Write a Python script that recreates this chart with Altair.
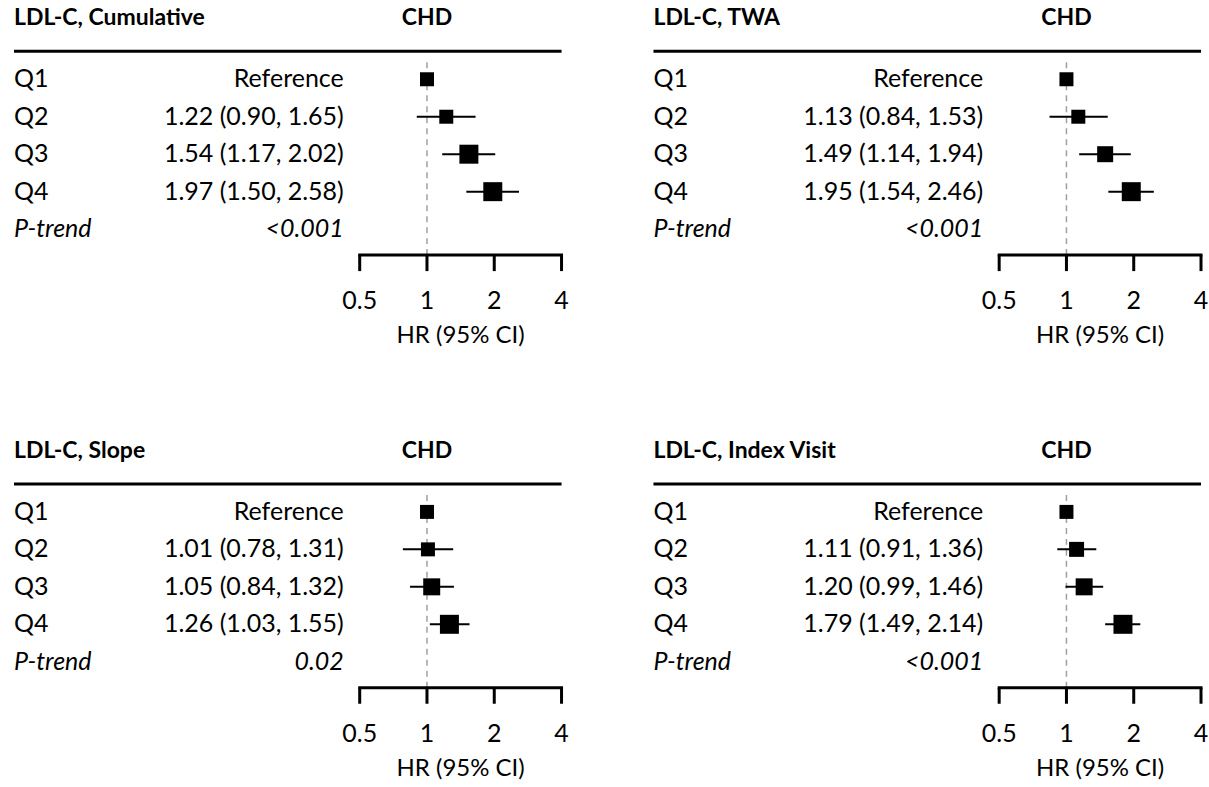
import altair as alt
import pandas as pd

# ---- data -------------------------------------------------------------
panel_titles = ["LDL-C, Cumulative", "LDL-C, TWA", "LDL-C, Slope", "LDL-C, Index Visit"]
outcome = "CHD"
quartiles = ["Q1", "Q2", "Q3", "Q4"]

hr_est = [
    [1.00, 1.22, 1.54, 1.97],
    [1.00, 1.13, 1.49, 1.95],
    [1.00, 1.01, 1.05, 1.26],
    [1.00, 1.11, 1.20, 1.79],
]
ci_low = [
    [None, 0.90, 1.17, 1.50],
    [None, 0.84, 1.14, 1.54],
    [None, 0.78, 0.84, 1.03],
    [None, 0.91, 0.99, 1.49],
]
ci_high = [
    [None, 1.65, 2.02, 2.58],
    [None, 1.53, 1.94, 2.46],
    [None, 1.31, 1.32, 1.55],
    [None, 1.36, 1.46, 2.14],
]
p_trend = ["<0.001", "<0.001", "0.02", "<0.001"]
tick_values = [0.5, 1, 2, 4]

# box side length (px) per row
box_side = [
    [14, 14, 19, 19],
    [14, 14, 16, 19],
    [14, 14, 17, 19],
    [14, 15, 17, 19],
]

# ---- layout -----------------------------------------------------------
FONT = "Lato"
BODY = 25
W, H = 548, 350
ROW_PX = 37.5          # vertical distance between rows
Q1_PX = 79             # y of first row inside a panel


def row_at(px):
    return (px - Q1_PX) / ROW_PX


ROW_TITLE = row_at(18)
ROW_HEADER = row_at(51)
ROW_DASH_TOP = row_at(62)
ROW_AXIS = row_at(255)
ROW_TICK_END = row_at(271)
ROW_TICK_LABEL = row_at(301)
ROW_AXIS_TITLE = row_at(336)

AXIS_LEFT_PX = 346     # pixel of HR = 0.5
AXIS_RIGHT_PX = W      # pixel of HR = 4
X_LO = 0.5 / 2 ** (AXIS_LEFT_PX / ((AXIS_RIGHT_PX - AXIS_LEFT_PX) / 3))
VALUE_RIGHT_PX = 330

xs = alt.Scale(type="log", domain=[X_LO, 4], nice=False)
ys = alt.Scale(domain=[row_at(0), row_at(H)], reverse=True, nice=False, zero=False)


def X(field):
    return alt.X(field, type="quantitative", scale=xs, axis=None)


def Y(field):
    return alt.Y(field, type="quantitative", scale=ys, axis=None)


def panel(i):
    labels = []
    for h, lo, hi in zip(hr_est[i], ci_low[i], ci_high[i]):
        labels.append("Reference" if lo is None else f"{h:.2f} ({lo:.2f}, {hi:.2f})")

    rows = pd.DataFrame({
        "r": list(range(len(quartiles))),
        "q": quartiles,
        "hr": hr_est[i],
        "lo": ci_low[i],
        "hi": ci_high[i],
        "txt": labels,
        "area": [s * s for s in box_side[i]],
    })
    ci_rows = rows[rows["lo"].notna()]
    trend = pd.DataFrame({"r": [len(quartiles)], "q": ["P-trend"], "txt": [p_trend[i]]})
    head = pd.DataFrame({"r": [ROW_TITLE], "t": [panel_titles[i]], "c": [outcome], "x": [1.0]})
    hline = pd.DataFrame({"r": [ROW_HEADER]})
    ref = pd.DataFrame({"x": [1.0], "r": [ROW_DASH_TOP], "r2": [ROW_AXIS]})
    axis_line = pd.DataFrame({"x": [min(tick_values)], "x2": [max(tick_values)], "r": [ROW_AXIS]})
    ticks = pd.DataFrame({
        "x": tick_values,
        "lab": [f"{v:g}" for v in tick_values],
        "r": ROW_AXIS,
        "r2": ROW_TICK_END,
        "rl": ROW_TICK_LABEL,
    })
    axis_title = pd.DataFrame({
        "x": [(min(tick_values) * max(tick_values)) ** 0.5],
        "r": [ROW_AXIS_TITLE],
        "t": ["HR (95% CI)"],
    })

    title = alt.Chart(head).mark_text(
        align="left", baseline="middle", font=FONT, fontSize=23, fontWeight="bold", color="black"
    ).encode(x=alt.value(0), y=Y("r"), text="t:N")
    chd = alt.Chart(head).mark_text(
        align="center", baseline="middle", font=FONT, fontSize=23, fontWeight="bold", color="black"
    ).encode(x=X("x"), y=Y("r"), text="c:N")
    header_rule = alt.Chart(hline).mark_rule(color="black", strokeWidth=3).encode(
        x=alt.value(0), x2=alt.value(W), y=Y("r")
    )
    dashed = alt.Chart(ref).mark_rule(color="#a0a0a0", strokeWidth=1.5, strokeDash=[6, 5]).encode(
        x=X("x"), y=Y("r"), y2="r2:Q"
    )
    ci = alt.Chart(ci_rows).mark_rule(color="black", strokeWidth=2).encode(
        x=X("lo"), x2="hi:Q", y=Y("r")
    )
    boxes = alt.Chart(rows).mark_square(color="black", filled=True, opacity=1).encode(
        x=X("hr"), y=Y("r"), size=alt.Size("area:Q", scale=None, legend=None)
    )
    q_lab = alt.Chart(rows).mark_text(
        align="left", baseline="middle", font=FONT, fontSize=BODY, color="black"
    ).encode(x=alt.value(0), y=Y("r"), text="q:N")
    v_lab = alt.Chart(rows).mark_text(
        align="right", baseline="middle", font=FONT, fontSize=BODY, color="black"
    ).encode(x=alt.value(VALUE_RIGHT_PX), y=Y("r"), text="txt:N")
    p_lab = alt.Chart(trend).mark_text(
        align="left", baseline="middle", font=FONT, fontSize=BODY, fontStyle="italic", color="black"
    ).encode(x=alt.value(0), y=Y("r"), text="q:N")
    p_val = alt.Chart(trend).mark_text(
        align="right", baseline="middle", font=FONT, fontSize=BODY, fontStyle="italic", color="black"
    ).encode(x=alt.value(VALUE_RIGHT_PX), y=Y("r"), text="txt:N")
    ax = alt.Chart(axis_line).mark_rule(color="black", strokeWidth=3, strokeCap="square").encode(
        x=X("x"), x2="x2:Q", y=Y("r")
    )
    tk = alt.Chart(ticks).mark_rule(color="black", strokeWidth=3).encode(
        x=X("x"), y=Y("r"), y2="r2:Q"
    )
    tk_lab = alt.Chart(ticks).mark_text(
        align="center", baseline="middle", font=FONT, fontSize=BODY, color="black"
    ).encode(x=X("x"), y=Y("rl"), text="lab:N")
    ax_title = alt.Chart(axis_title).mark_text(
        align="center", baseline="middle", font=FONT, fontSize=24, color="black"
    ).encode(x=X("x"), y=Y("r"), text="t:N")

    return alt.layer(
        title, chd, header_rule, dashed, ci, boxes, q_lab, v_lab, p_lab, p_val,
        ax, tk, tk_lab, ax_title,
    ).properties(width=W, height=H)


chart = (
    alt.concat(
        panel(0), panel(1), panel(2), panel(3),
        columns=2,
        spacing={"row": 83, "column": 92},
        bounds="flush",
    )
    .properties(padding={"left": 12, "top": 0, "right": 0, "bottom": 0}, background="white")
    .configure_view(strokeWidth=0)
)

chart.save("out.html", embed_options={"renderer": "svg", "actions": False})
